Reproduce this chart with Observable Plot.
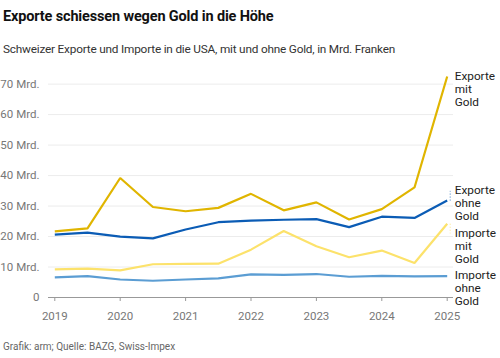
<!DOCTYPE html>
<html>
<head>
<meta charset="utf-8">
<script src="https://cdn.jsdelivr.net/npm/d3@7"></script>
<script src="https://cdn.jsdelivr.net/npm/@observablehq/plot@0.6"></script>
<style>
  html, body { margin: 0; padding: 0; background: #fff; }
  body { width: 500px; height: 358px; overflow: hidden; font-family: Roboto, "Noto Sans", sans-serif; }
  #title { position: absolute; left: 3px; top: 8px; font-size: 14.5px; font-weight: 700; color: #111; letter-spacing: -0.15px; }
  #subtitle { position: absolute; left: 3px; top: 42px; font-size: 11.8px; color: #333; letter-spacing: -0.2px; }
  #chart { position: absolute; left: 0; top: 62px; }
  #caption { position: absolute; left: 3px; top: 341px; font-size: 10px; color: #666; }
</style>
</head>
<body>
<div id="title">Exporte schiessen wegen Gold in die Höhe</div>
<div id="subtitle">Schweizer Exporte und Importe in die USA, mit und ohne Gold, in Mrd. Franken</div>
<div id="chart"></div>
<div id="caption">Grafik: arm; Quelle: BAZG, Swiss-Impex</div>
<script>
// Half-year periods
const periods = [2019, 2019.5, 2020, 2020.5, 2021, 2021.5, 2022, 2022.5, 2023, 2023.5, 2024, 2024.5, 2025];
const seriesNames = ["Exporte mit Gold", "Exporte ohne Gold", "Importe mit Gold", "Importe ohne Gold"];
const seriesLabels = ["Exporte\nmit\nGold", "Exporte\nohne\nGold", "Importe\nmit\nGold", "Importe\nohne\nGold"];
const seriesColors = ["#e0b500", "#0b5cb5", "#fce26b", "#5b9dd3"];
const exporteMitGold  = [21.7, 22.7, 39.2, 29.7, 28.3, 29.4, 34.0, 28.6, 31.2, 25.6, 29.0, 36.1, 72.5];
const exporteOhneGold = [20.6, 21.3, 20.0, 19.4, 22.3, 24.7, 25.2, 25.5, 25.7, 23.1, 26.5, 26.1, 31.8];
const importeMitGold  = [9.2, 9.5, 8.9, 10.9, 11.0, 11.1, 15.7, 21.8, 16.8, 13.2, 15.4, 11.3, 24.2];
const importeOhneGold = [6.6, 7.0, 5.9, 5.5, 5.9, 6.25, 7.6, 7.45, 7.7, 6.8, 7.1, 6.9, 7.0];
const yTicks = [0, 10, 20, 30, 40, 50, 60, 70];
const xTicks = [2019, 2020, 2021, 2022, 2023, 2024, 2025];

const allValues = [exporteMitGold, exporteOhneGold, importeMitGold, importeOhneGold];
const data = [];
allValues.forEach((vals, s) => vals.forEach((v, i) => data.push({series: seriesNames[s], t: periods[i], v})));

const W = 500, H = 270, mTop = 14, mBottom = 35, mLeft = 48, mRight = 47;
const yMax = 72.5;
const pxPerUnit = (H - mTop - mBottom) / yMax;

// end labels with simple dodge
const labels = seriesNames.map((name, s) => ({
  series: name, label: seriesLabels[s], t: periods[periods.length - 1],
  v: allValues[s][allValues[s].length - 1]
}));
labels.forEach(d => d.ly = d.v);
const minGap = 42.5 / pxPerUnit;
const sorted = [...labels].sort((a, b) => b.v - a.v);
for (let iter = 0; iter < 100; iter++) {
  for (let i = 0; i < sorted.length - 1; i++) {
    const a = sorted[i], b = sorted[i + 1];
    const gap = a.ly - b.ly;
    if (gap < minGap) {
      const push = (minGap - gap) / 2;
      a.ly += push; b.ly -= push;
    }
  }
  const last = sorted[sorted.length - 1];
  if (last.ly < last.v) last.ly = last.v;
}
const moved = labels.filter(d => Math.abs(d.ly - d.v) > 0.3);

const color = {domain: seriesNames, range: seriesColors};

const plot = Plot.plot({
  width: W, height: H,
  marginTop: mTop, marginBottom: mBottom, marginLeft: mLeft, marginRight: mRight,
  style: {fontFamily: "Roboto, 'Noto Sans', sans-serif", fontSize: "11.5px", background: "transparent"},
  x: {domain: [2019, 2025], inset: 6.3},
  y: {domain: [0, yMax]},
  color,
  marks: [
    Plot.ruleY(yTicks.filter(d => d > 0), {stroke: "#ececec", strokeWidth: 1}),
    Plot.ruleY([0], {stroke: "#999", strokeWidth: 1}),
    Plot.axisY(yTicks, {tickSize: 0, tickPadding: 9, fill: "#777", fontSize: 11.5,
      tickFormat: d => d === 0 ? "0" : `${d} Mrd.`, label: null}),
    Plot.axisX(xTicks, {tickSize: 4, tickPadding: 10, stroke: "#999", fill: "#777", fontSize: 11.5,
      tickFormat: d => String(d), label: null}),
    Plot.line(data, {x: "t", y: "v", z: "series", stroke: d => d.series, strokeWidth: 2.2,
      strokeLinejoin: "miter", strokeLinecap: "butt", curve: "linear"}),
    Plot.link(moved, {x1: "t", x2: "t", y1: "v", y2: "ly", stroke: d => d.series, dx: 3,
      strokeWidth: 1, strokeDasharray: "1,2", strokeOpacity: 0.8}),
    Plot.text(labels, {x: "t", y: "ly", text: "label", textAnchor: "start", lineAnchor: "top",
      dx: 7.5, dy: -6, fill: "#222", fontSize: 11.8, lineHeight: 1.1})
  ]
});
document.getElementById("chart").appendChild(plot);
</script>
</body>
</html>
